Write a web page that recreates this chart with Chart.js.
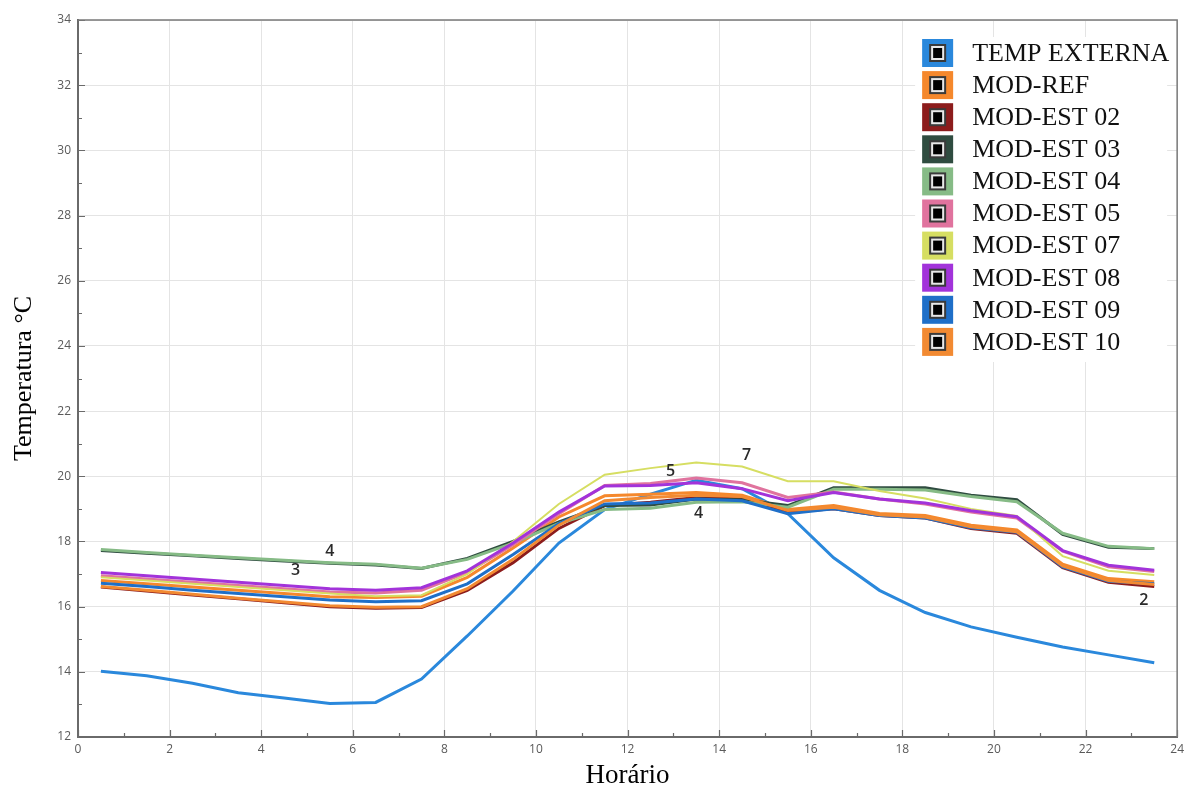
<!DOCTYPE html>
<html>
<head>
<meta charset="utf-8">
<script src="https://cdn.jsdelivr.net/npm/chart.js@4.4.1/dist/chart.umd.min.js"></script>
<style>
    html, body { margin: 0; padding: 0; background: #fff; }
    #wrap { width: 1189px; height: 792px; }
</style>
</head>
<body>
<div id="wrap"><canvas id="tempChart"></canvas></div>
<script>
// Hourly temperatures (°C), one value per half hour mark
const hours = [0.5, 1.5, 2.5, 3.5, 4.5, 5.5, 6.5, 7.5, 8.5, 9.5, 10.5, 11.5, 12.5, 13.5, 14.5, 15.5, 16.5, 17.5, 18.5, 19.5, 20.5, 21.5, 22.5, 23.5];

const tempExterna = [14.02, 13.88, 13.65, 13.36, 13.2, 13.03, 13.06, 13.78, 15.1, 16.48, 17.95, 18.98, 19.45, 19.88, 19.62, 18.85, 17.5, 16.5, 15.82, 15.38, 15.06, 14.76, 14.52, 14.28];
const modRef = [16.8, 16.7, 16.6, 16.5, 16.4, 16.3, 16.28, 16.32, 16.9, 17.8, 18.75, 19.4, 19.45, 19.5, 19.42, 18.98, 19.1, 18.86, 18.8, 18.5, 18.35, 17.3, 16.86, 16.76];
const modEst02 = [16.6, 16.48, 16.36, 16.24, 16.12, 16.0, 15.95, 15.97, 16.5, 17.35, 18.4, 19.1, 19.2, 19.35, 19.3, 18.9, 19.0, 18.8, 18.72, 18.4, 18.25, 17.2, 16.75, 16.62];
const modEst03 = [17.72, 17.64, 17.56, 17.48, 17.4, 17.33, 17.28, 17.17, 17.48, 18.0, 18.6, 19.1, 19.12, 19.3, 19.28, 19.1, 19.65, 19.65, 19.65, 19.42, 19.28, 18.22, 17.82, 17.78];
const modEst04 = [17.75, 17.66, 17.58, 17.5, 17.42, 17.35, 17.3, 17.18, 17.45, 17.95, 18.55, 18.98, 19.02, 19.2, 19.22, 19.05, 19.6, 19.6, 19.58, 19.38, 19.22, 18.25, 17.85, 17.78];
const modEst05 = [16.95, 16.85, 16.75, 16.65, 16.55, 16.45, 16.42, 16.5, 17.05, 17.9, 18.85, 19.72, 19.78, 19.95, 19.8, 19.35, 19.52, 19.3, 19.15, 18.9, 18.72, 17.7, 17.22, 17.08];
const modEst07 = [16.9, 16.8, 16.7, 16.6, 16.5, 16.4, 16.32, 16.35, 17.0, 18.0, 19.15, 20.05, 20.25, 20.42, 20.3, 19.85, 19.85, 19.55, 19.32, 19.0, 18.78, 17.55, 17.1, 16.97];
const modEst08 = [17.05, 16.95, 16.85, 16.75, 16.65, 16.55, 16.5, 16.58, 17.1, 17.95, 18.9, 19.7, 19.72, 19.8, 19.62, 19.25, 19.5, 19.3, 19.18, 18.94, 18.76, 17.72, 17.27, 17.12];
const modEst09 = [16.72, 16.62, 16.5, 16.4, 16.3, 16.2, 16.15, 16.18, 16.7, 17.6, 18.55, 19.15, 19.18, 19.3, 19.25, 18.85, 19.0, 18.8, 18.72, 18.42, 18.28, 17.22, 16.78, 16.7];
const modEst10 = [16.62, 16.5, 16.38, 16.26, 16.14, 16.03, 15.98, 16.0, 16.55, 17.45, 18.5, 19.25, 19.35, 19.42, 19.38, 18.95, 19.05, 18.82, 18.75, 18.45, 18.3, 17.25, 16.8, 16.68];

const seriesNames = ['TEMP EXTERNA', 'MOD-REF', 'MOD-EST 02', 'MOD-EST 03', 'MOD-EST 04', 'MOD-EST 05', 'MOD-EST 07', 'MOD-EST 08', 'MOD-EST 09', 'MOD-EST 10'];
const seriesValues = [tempExterna, modRef, modEst02, modEst03, modEst04, modEst05, modEst07, modEst08, modEst09, modEst10];
const seriesColors = ['#2a88dc', '#f5882c', '#8c1c1c', '#2f4c40', '#86bb86', '#e0739e', '#d6de62', '#a233da', '#1f6fc8', '#f28a32'];
const seriesWidths = [3, 3, 3, 3, 3, 3, 2, 3, 3, 3];

// small numbers written along the curves: [x, y, text]
const curveLabels = [[5.5, 17.7, '4'], [4.75, 17.12, '3'], [12.94, 20.16, '5'], [14.6, 20.65, '7'], [13.55, 18.87, '4'], [23.27, 16.2, '2']];

const xTicksMajor = 2, yTicksMajor = 2;

const datasets = seriesNames.map((name, i) => ({
    label: name,
    data: hours.map((h, k) => ({ x: h, y: seriesValues[i][k] })),
    borderColor: seriesColors[i],
    backgroundColor: seriesColors[i],
    borderWidth: seriesWidths[i],
    pointRadius: 0,
    tension: 0,
    fill: false,
    order: -i
}));

// inside tick marks (major + minor) on both axes
const insideTicks = {
    id: 'insideTicks',
    afterDraw(chart) {
        const { ctx, chartArea: a, scales: { x, y } } = chart;
        ctx.save();
        ctx.strokeStyle = '#6a6a6a';
        ctx.lineWidth = 1.2;
        ctx.beginPath();
        for (let v = x.min; v <= x.max; v++) {
            const px = Math.round(x.getPixelForValue(v)) + 0.5;
            const len = v % xTicksMajor === 0 ? 7 : 4;
            ctx.moveTo(px, a.bottom); ctx.lineTo(px, a.bottom - len);
        }
        for (let v = y.min; v <= y.max; v++) {
            const py = Math.round(y.getPixelForValue(v)) + 0.5;
            const len = v % yTicksMajor === 0 ? 7 : 4;
            ctx.moveTo(a.left, py); ctx.lineTo(a.left + len, py);
        }
        ctx.stroke();
        // top and right frame
        ctx.strokeStyle = '#7a7a7a';
        ctx.lineWidth = 1.5;
        ctx.beginPath();
        ctx.moveTo(a.left, a.top); ctx.lineTo(a.right, a.top); ctx.lineTo(a.right, a.bottom);
        ctx.stroke();
        ctx.restore();
    }
};

const curveText = {
    id: 'curveText',
    afterDatasetsDraw(chart) {
        const { ctx, scales: { x, y } } = chart;
        ctx.save();
        ctx.fillStyle = '#2a2a2a';
        ctx.font = '600 16px "Open Sans", sans-serif';
        ctx.textAlign = 'center';
        ctx.textBaseline = 'middle';
        curveLabels.forEach(l => ctx.fillText(l[2], x.getPixelForValue(l[0]), y.getPixelForValue(l[1])));
        ctx.restore();
    }
};

// legend in the upper right corner of the plot, on a plain white patch
const boxLegend = {
    id: 'boxLegend',
    afterDatasetsDraw(chart) {
        const { ctx, chartArea: a } = chart;
        const bx = a.right - 262, by = a.top + 17, bw = 252, bh = 325;
        ctx.save();
        ctx.fillStyle = '#fff';
        ctx.fillRect(bx, by, bw, bh);
        ctx.font = '26px "Liberation Serif", "Times New Roman", serif';
        ctx.textBaseline = 'middle';
        chart.data.datasets.forEach((ds, i) => {
            const cy = a.top + 33 + i * 32.1;
            const sx = a.right - 255;
            ctx.fillStyle = ds.borderColor;
            ctx.fillRect(sx, cy - 14, 31, 28);
            ctx.fillStyle = '#3a3a3a';
            ctx.fillRect(sx + 7, cy - 9, 17, 18);
            ctx.fillStyle = '#e8e8e8';
            ctx.fillRect(sx + 9, cy - 7, 13, 14);
            ctx.fillStyle = '#000';
            ctx.fillRect(sx + 11, cy - 5, 9, 10);
            ctx.fillStyle = '#111';
            ctx.fillText(ds.label, a.right - 205, cy + 1);
        });
        ctx.restore();
    }
};

new Chart(document.getElementById('tempChart'), {
    type: 'line',
    data: { datasets: datasets },
    plugins: [boxLegend, insideTicks, curveText],
    options: {
        responsive: true,
        maintainAspectRatio: false,
        animation: false,
        layout: { padding: { top: 20, right: 9, left: 0, bottom: 0 } },
        plugins: { legend: { display: false }, tooltip: { enabled: false } },
        scales: {
            x: {
                type: 'linear', min: 0, max: 24,
                afterFit: s => { s.height = 55; },
                ticks: { stepSize: xTicksMajor, padding: 5, color: '#5a5a5a', font: { family: '"Open Sans", sans-serif', size: 12 } },
                grid: { color: '#e4e4e4', drawTicks: false },
                border: { color: '#6a6a6a', width: 2 },
                title: { display: true, text: 'Horário', color: '#000', padding: 0, font: { family: '"Liberation Serif", "Times New Roman", serif', size: 27 } }
            },
            y: {
                min: 12, max: 34,
                afterFit: s => { s.width = 78; },
                ticks: { stepSize: yTicksMajor, padding: 7, color: '#5a5a5a', font: { family: '"Open Sans", sans-serif', size: 12 } },
                grid: { color: '#e4e4e4', drawTicks: false },
                border: { color: '#6a6a6a', width: 2 },
                title: { display: true, text: 'Temperatura °C', color: '#000', padding: { top: 9 }, font: { family: '"Liberation Serif", "Times New Roman", serif', size: 26 } }
            }
        }
    }
});
</script>
</body>
</html>
